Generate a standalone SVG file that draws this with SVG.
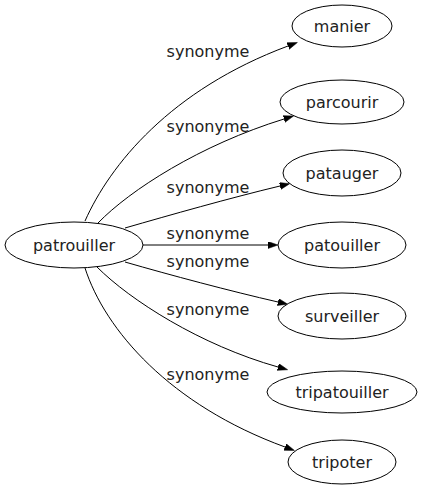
<svg xmlns="http://www.w3.org/2000/svg" width="423" height="491" viewBox="0 0 423 491">
<style>
.node ellipse{fill:#fff;stroke:#000;stroke-width:1}
text{font-family:"DejaVu Sans",sans-serif;font-size:16px;fill:#222;text-anchor:middle}
.edges path{fill:none;stroke:#000;stroke-width:1}
</style>
<defs>
<marker id="arr" markerUnits="userSpaceOnUse" markerWidth="11" markerHeight="8" refX="0" refY="3.5" orient="auto">
<path d="M0,0 L10,3.5 L0,7 z" fill="#000" stroke="#000" stroke-width="0.5"/>
</marker>
</defs>
<rect width="423" height="491" fill="#fff"/>
<g class="edges">
<path d="M85,221 C110,165 170,90 288,46" marker-end="url(#arr)"/>
<path d="M98,223 C130,190 200,145 284,119" marker-end="url(#arr)"/>
<path d="M125,228 C170,215 230,198 280,186" marker-end="url(#arr)"/>
<path d="M143,245 L268,245" marker-end="url(#arr)"/>
<path d="M125,262 C170,275 230,291 278,302" marker-end="url(#arr)"/>
<path d="M97,267 C130,300 200,345 278,367" marker-end="url(#arr)"/>
<path d="M85,268 C105,330 170,405 285,447" marker-end="url(#arr)"/>
<text x="208" y="57">synonyme</text>
<text x="208" y="132">synonyme</text>
<text x="208" y="193">synonyme</text>
<text x="208" y="239">synonyme</text>
<text x="208" y="267">synonyme</text>
<text x="208" y="315">synonyme</text>
<text x="208" y="380">synonyme</text>
</g>
<g id="patrouiller" class="node"><ellipse cx="74" cy="245" rx="69" ry="23"/><text x="74" y="251">patrouiller</text></g>
<g id="manier" class="node"><ellipse cx="342" cy="26" rx="50" ry="21"/><text x="342" y="32">manier</text></g>
<g id="parcourir" class="node"><ellipse cx="342" cy="102" rx="62" ry="22"/><text x="342" y="108">parcourir</text></g>
<g id="patauger" class="node"><ellipse cx="342" cy="173" rx="59" ry="23"/><text x="342" y="179">patauger</text></g>
<g id="patouiller" class="node"><ellipse cx="342" cy="245" rx="64" ry="23"/><text x="342" y="251">patouiller</text></g>
<g id="surveiller" class="node"><ellipse cx="342" cy="316" rx="64" ry="23"/><text x="342" y="322">surveiller</text></g>
<g id="tripatouiller" class="node"><ellipse cx="342" cy="392" rx="75" ry="21"/><text x="342" y="398">tripatouiller</text></g>
<g id="tripoter" class="node"><ellipse cx="342" cy="462" rx="54" ry="22"/><text x="342" y="468">tripoter</text></g>
</svg>
